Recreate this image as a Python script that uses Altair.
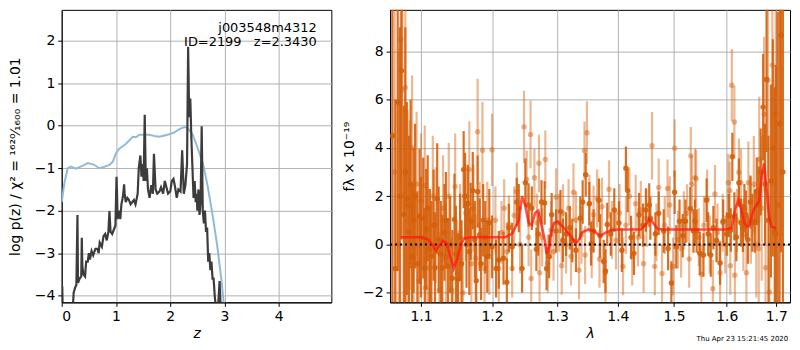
import altair as alt
import pandas as pd

# ---------------- left panel data ----------------
z_prior = [0.0, 0.05, 0.11, 0.17, 0.26, 0.39, 0.48, 0.60, 0.69, 0.80, 0.88, 0.94, 1.0, 1.06, 1.18,
           1.31, 1.37, 1.43, 1.61, 1.74, 1.80, 1.86, 1.98, 2.07, 2.17, 2.26, 2.32, 2.41, 2.50, 2.60,
           2.69, 2.78, 2.87, 2.95, 2.99, 3.02]
lp_prior = [-1.80, -1.34, -1.00, -0.96, -1.01, -0.94, -0.88, -0.92, -1.00, -0.96, -0.92, -0.85, -0.65,
            -0.54, -0.43, -0.26, -0.27, -0.21, -0.21, -0.25, -0.26, -0.24, -0.20, -0.16, -0.08, -0.03,
            -0.05, -0.20, -0.50, -0.88, -1.42, -2.10, -2.86, -3.70, -4.23, -4.6]

z_pdf = [0.0, 0.01, 0.02, 0.05, 0.10, 0.15, 0.20, 0.22, 0.25, 0.27, 0.29, 0.30, 0.33, 0.36, 0.37, 0.38,
         0.40, 0.43, 0.45, 0.48, 0.50, 0.52, 0.55, 0.58, 0.62, 0.66, 0.68, 0.70, 0.74, 0.77, 0.80,
         0.83, 0.86, 0.88, 0.90, 0.93, 0.96, 0.99, 1.01, 1.02, 1.03, 1.06, 1.08, 1.10, 1.13, 1.15,
         1.16, 1.18, 1.21, 1.24, 1.27, 1.30, 1.33, 1.36, 1.40, 1.42, 1.45, 1.47, 1.49, 1.51, 1.53,
         1.55, 1.57, 1.59, 1.62, 1.65, 1.68, 1.70, 1.73, 1.76, 1.80, 1.83, 1.87, 1.90, 1.93, 1.96,
         2.00, 2.03, 2.06, 2.09, 2.12, 2.15, 2.19, 2.22, 2.25, 2.28, 2.31, 2.33, 2.35, 2.37, 2.39,
         2.41, 2.43, 2.45, 2.47, 2.49, 2.50, 2.52, 2.54, 2.56, 2.58, 2.60, 2.62, 2.64, 2.66, 2.68,
         2.70, 2.72, 2.74, 2.76, 2.78, 2.80, 2.82, 2.85, 2.88, 2.91, 2.93, 2.95]
lp_pdf = [-3.80, -3.80, -4.40, -4.60, -4.60, -4.50, -4.40, -3.93, -3.80, -3.75, -2.10, -3.70, -3.60,
          -3.55, -2.64, -3.30, -3.50, -3.55, -3.20, -3.20, -3.00, -3.15, -2.95, -3.05, -2.90, -2.90,
          -3.00, -2.75, -2.85, -2.60, -2.55, -2.70, -2.50, -2.01, -2.50, -2.55, -2.45, -2.35, -1.20,
          -1.60, -2.20, -2.00, -2.20, -1.85, -1.65, -1.38, -1.60, -1.80, -1.70, -1.75, -1.85, -1.80,
          -1.75, -1.85, -1.60, -1.00, -0.70, -1.20, -0.90, -1.30, 0.26, -1.30, -1.00, -1.50, -1.70,
          -1.40, -1.60, -0.66, -1.50, -1.60, -1.55, -1.45, -1.60, -1.30, -1.45, -1.60, -1.55, -1.30,
          -1.25, -1.45, -1.70, -1.50, -1.55, -0.58, -1.60, -1.40, -0.90, 1.86, 0.20, 0.64, -0.30,
          -1.00, -1.70, -1.30, -1.80, -1.60, -2.00, -1.50, -2.10, -1.80, -0.01, -2.00, -2.30, -2.00,
          -2.50, -2.40, -3.20, -3.00, -3.40, -3.20, -3.60, -3.60, -4.00, -4.40, -4.30, -3.66, -4.30,
          -4.60]

label_z = [4.70, 4.70]
label_lp = [2.30, 1.98]
label_txt = ["j003548m4312", "ID=2199\u00a0\u00a0\u00a0z=2.3430"]

# ---------------- right panel data ----------------
lam_model = [1.073, 1.09, 1.10, 1.11, 1.115, 1.12, 1.125, 1.13, 1.135, 1.14, 1.145, 1.15, 1.155, 1.16,
             1.17, 1.20, 1.22, 1.23, 1.24, 1.245, 1.25, 1.255, 1.26, 1.265, 1.27, 1.275, 1.28, 1.283,
             1.287, 1.29, 1.295, 1.30, 1.31, 1.32, 1.33, 1.335, 1.34, 1.35, 1.36, 1.37, 1.38, 1.39,
             1.40, 1.44, 1.45, 1.455, 1.46, 1.47, 1.48, 1.60, 1.61, 1.617, 1.623, 1.628, 1.635, 1.64,
             1.645, 1.65, 1.655, 1.66, 1.665, 1.67, 1.675, 1.68, 1.685, 1.69, 1.70]
f_model = [0.3, 0.3, 0.3, 0.2, 0.0, -0.25, -0.05, 0.15, 0.05, -0.5, -1.0, -0.6, 0.0, 0.25, 0.3, 0.3,
           0.3, 0.45, 1.0, 2.0, 1.6, 0.9, 0.8, 1.3, 1.4, 0.8, 0.2, -0.4, -0.1, 0.5, 0.9, 0.95, 0.7,
           0.4, 0.05, 0.2, 0.5, 0.62, 0.55, 0.35, 0.5, 0.6, 0.62, 0.62, 0.85, 1.05, 0.95, 0.65, 0.62,
           0.62, 0.7, 1.5, 1.85, 1.5, 0.9, 0.75, 0.8, 1.2, 1.5, 1.65, 1.8, 2.8, 3.35, 2.3, 1.2, 0.75,
           0.65]

# darker spectrum (wavelength, flux, 1-sigma error)
lam_a = [1.062, 1.066, 1.069, 1.072, 1.074, 1.077, 1.079, 1.081, 1.084, 1.086, 1.088, 1.090, 1.092,
         1.095, 1.098, 1.100, 1.103, 1.105, 1.107, 1.109, 1.112, 1.114, 1.117, 1.119, 1.122, 1.124,
         1.127, 1.129, 1.132, 1.134, 1.137, 1.140, 1.143, 1.146, 1.148, 1.151, 1.154, 1.156, 1.159,
         1.161, 1.163, 1.165, 1.167, 1.169, 1.172, 1.175, 1.177, 1.179, 1.182, 1.184, 1.187, 1.190,
         1.193, 1.196,
         1.200, 1.206, 1.210, 1.217, 1.222, 1.225, 1.230, 1.237, 1.240, 1.245, 1.250, 1.255, 1.260,
         1.267, 1.270, 1.275, 1.280, 1.283, 1.287, 1.291, 1.298, 1.305, 1.309, 1.314, 1.320, 1.324,
         1.330, 1.337, 1.341, 1.346, 1.352, 1.355, 1.359, 1.368, 1.370, 1.376, 1.379, 1.382, 1.388,
         1.394, 1.402, 1.407, 1.414, 1.417, 1.423, 1.428, 1.437, 1.444, 1.449, 1.455, 1.457, 1.466,
         1.472, 1.481, 1.489, 1.495, 1.501, 1.504, 1.510, 1.516, 1.521, 1.530, 1.536, 1.539, 1.542,
         1.548, 1.555, 1.561, 1.564, 1.569, 1.574, 1.580, 1.587, 1.593, 1.600, 1.604,
         1.608, 1.611, 1.615, 1.619, 1.624, 1.628, 1.632, 1.635, 1.638, 1.642, 1.647, 1.651, 1.656,
         1.660, 1.664, 1.668, 1.673, 1.677, 1.680, 1.684, 1.689, 1.693, 1.697, 1.699, 1.703, 1.707,
         1.710, 1.714]
f_a = [4.5, -1.0, 5.9, 2.0, 7.2, 1.25, 3.0, 1.9, 0.5, 2.5, -0.5, 1.0, 2.0, -0.8, 1.16, 0.3, 1.09,
       -1.0, 0.63, 1.5, -0.2, -0.5, 0.8, -0.97, 1.89, 0.2, -0.4, -0.97, 0.5, 1.0, -0.9, 0.0, -1.4,
       1.03, -0.4, -1.44, 0.3, -0.8, 3.1, 2.0, 0.0, 1.7, -0.3, 0.96, 2.23, 0.2, -1.5, 2.19, 0.4, -0.8,
       1.0, 0.3, -0.5, 0.9,
       -0.1, -1.0, -0.64, -0.57, -1.57, 0.69, -0.1, 1.76, 1.5, -1.0, 2.56, 1.63, 1.5, -0.2, 0.43,
       1.76, 1.72, -1.0, -0.5, 1.23, 0.56, 1.36, 0.16, 0.43, 0.69, 0.16, -0.24, 1.09, 1.76, 2.89,
       1.69, 0.03, 0.56, 1.83, 0.36, -0.71, -1.1, 0.83, 0.43, 1.43, 0.89, -0.24, 3.16, 2.23, 0.29,
       -0.37, 1.23, 0.8, 1.43, 1.63, 1.09, 0.43, 1.29, 0.56, -0.17, -1.6, 2.16, -0.1, 0.96, 0.36,
       0.96, 1.49, 0.56, 0.96, 0.56, -0.37, -0.44, 1.83, 0.43, -0.44, 0.69, 0.16, -0.77, 0.96, 0.43,
       1.2,
       0.6, 3.63, 1.16, 0.3, 2.56, 0.9, 0.69, 1.5, 1.23, 0.2, 1.76, 0.9, 0.96, 2.2, 1.63, 3.0, 5.69,
       2.5, 6.83, 1.0, 2.63, 4.0, 0.5, 0.43, 1.63, 5.0, 8.67, 3.0]
e_a = [7, 7, 7, 7, 7, 4.5, 6, 4, 4, 3.5, 3, 3, 3, 3, 2.8, 2.5, 2.5, 2.5, 2.5, 2.2, 2.5, 2.3, 2.3,
       2.3, 2.3, 2.2, 2.2, 2.2, 2.0, 2.0, 2.0, 2.0, 2.0, 1.9, 2.0, 1.9, 1.8, 1.8, 1.6, 1.8, 1.8, 1.6,
       1.8, 1.6, 1.6, 1.6, 1.6, 1.5, 1.5, 1.5, 1.5, 1.5, 1.5, 1.4,
       1.3, 1.2, 1.2, 1.1, 1.0, 1.0, 1.0, 1.0, 1.0, 1.0, 1.0, 0.9, 0.9, 0.9, 0.9, 0.9, 0.9, 0.9, 0.9,
       0.9, 0.9, 0.9, 0.9, 0.9, 0.9, 0.9, 0.9, 0.9, 0.9, 0.9, 0.9, 0.9, 0.9, 0.9, 0.9, 0.9, 0.9, 0.9,
       0.9, 0.9, 0.9, 0.9, 0.9, 0.9, 0.9, 0.9, 0.9, 0.9, 0.9, 0.9, 0.9, 0.9, 0.9, 0.9, 0.9, 0.9, 0.9,
       0.9, 0.9, 0.9, 0.9, 0.9, 0.9, 0.9, 0.9, 0.9, 0.9, 0.9, 0.9, 0.9, 0.9, 0.9, 0.9, 0.9, 0.9, 0.9,
       0.9,
       1.0, 1.0, 1.0, 1.0, 1.0, 1.0, 1.0, 1.0, 1.0, 1.1, 1.2, 1.3, 1.4,
       1.6, 1.8, 2.2, 2.5, 3, 3.5, 4, 4.5, 6, 7, 8, 8, 9, 9, 10]

# lighter spectrum (wavelength, flux, 1-sigma error)
lam_b = [1.065, 1.070, 1.073, 1.075, 1.079, 1.082, 1.085, 1.088, 1.090, 1.094, 1.097, 1.100, 1.105,
         1.106, 1.109, 1.111, 1.116, 1.120, 1.125, 1.130, 1.134, 1.138, 1.142, 1.147, 1.150, 1.154,
         1.158, 1.162, 1.167, 1.170, 1.173, 1.176, 1.179, 1.182, 1.186, 1.189, 1.193, 1.196, 1.200,
         1.205, 1.210, 1.214, 1.218, 1.222, 1.225, 1.230, 1.233, 1.237, 1.242, 1.248, 1.252, 1.255,
         1.258, 1.259, 1.264, 1.268, 1.271, 1.272, 1.276, 1.281, 1.285, 1.290, 1.294, 1.298, 1.303,
         1.307, 1.309, 1.314, 1.318, 1.322, 1.326, 1.330, 1.335, 1.339, 1.344, 1.345, 1.348, 1.352,
         1.356, 1.359, 1.365, 1.369, 1.373, 1.379, 1.385, 1.390, 1.397, 1.403, 1.409, 1.414, 1.420,
         1.425, 1.431, 1.435, 1.440, 1.445, 1.450, 1.460, 1.465, 1.468, 1.472, 1.478, 1.483, 1.488,
         1.492, 1.498, 1.501, 1.507, 1.513, 1.518, 1.524, 1.528, 1.531, 1.533, 1.539, 1.541, 1.546,
         1.551, 1.556, 1.562, 1.567, 1.573, 1.577, 1.582, 1.587, 1.592, 1.597, 1.603, 1.606, 1.607,
         1.610, 1.615, 1.616, 1.620, 1.624, 1.628, 1.633, 1.639, 1.643, 1.648, 1.654, 1.659, 1.664,
         1.665, 1.670, 1.675, 1.678, 1.683, 1.686, 1.692, 1.699]
f_b = [3.0, 0.0, 8.5, 6.4, 6.5, 1.6, 1.63, 4.0, -0.57, 2.5, -1.5, 1.8, 2.43, -1.8, -0.17, -0.97,
       2.0, 0.8, -1.9, 1.5, -0.5, 2.0, -1.9, 2.4, -1.2, 0.5, -2.0, 1.3, 3.1, -0.8, 1.5, -0.57, 4.67,
       0.8, 3.9, -1.0, 1.0, -0.5, 3.92, 1.0, -1.0, 0.5, 1.5, -0.3, 0.83, -1.0, 1.2, 2.19, 0.0, 4.87,
       2.69, 0.3, 4.56, -1.41, 2.76, 0.9, 3.36, -1.17, 0.3, 3.52, -0.8, 0.6, -0.3, 1.96, 0.9, -0.88,
       1.29, 0.0, 1.5, -0.5, 2.16, 1.0, -1.07, 0.4, 3.89, -0.44, 4.63, 1.69, -0.2, 1.23, 1.9, -0.6,
       1.56, -1.17, 2.29, 0.6, 0.16, 1.3, -0.91, 0.8, 2.0, -0.5, 1.69, 0.3, 1.43, -0.8, 1.09, 4.09,
       -0.91, 0.5, 2.36, -1.2, 0.8, 2.32, 1.63, -0.91, 3.99, 0.2, -0.17, 1.0, 1.29, -0.6, 3.67, 2.49,
       2.76, 2.72, 0.3, -1.24, 0.8, 1.89, 0.0, -1.84, 2.09, 0.5, -1.17, 0.9, 0.0, 2.56, 2.23, -0.88,
       6.6, 5.07, -1.28, 1.0, 2.99, 2.56, 0.4, -1.17, 2.56, 1.0, 2.49, 0.0, -0.17, 3.52, 1.5, 5.39,
       -0.97, 6.8, -1.97, 7.43, 5.43]
e_b = [8, 8, 6, 5, 5, 4, 3.5, 3, 3, 3, 2.8, 2.8, 2.5, 2.5, 2.5, 2.5, 2.5, 2.4, 2.4, 2.2, 2.2, 2.2,
       2.2, 2.2, 2.2, 2.0, 2.0, 2.0, 2.0, 2.0, 1.8, 1.8, 2.2, 1.8, 2.0, 1.8, 1.6, 1.6, 1.5, 1.4, 1.4,
       1.3, 1.2, 1.2, 1.2, 1.2, 1.2, 1.2, 1.2, 1.5, 1.2, 1.2, 1.4, 1.2, 1.2, 1.2, 1.2, 1.2, 1.2, 1.2,
       1.2, 1.2, 1.2, 1.2, 1.2, 1.2, 1.2, 1.2, 1.2, 1.2, 1.2, 1.2, 1.2, 1.2, 1.2, 1.2, 1.3, 1.2, 1.2,
       1.2, 1.2, 1.2, 1.2, 1.2, 1.2, 1.2, 1.2, 1.2, 1.2, 1.2, 1.2, 1.2, 1.2, 1.2, 1.2, 1.2, 1.2, 1.4,
       1.2, 1.2, 1.2, 1.2, 1.2, 1.2, 1.2, 1.2, 1.2, 1.2, 1.2, 1.2, 1.2, 1.2, 1.2, 1.2, 1.2, 1.2, 1.2,
       1.2, 1.2, 1.2, 1.2, 1.2, 1.2, 1.2, 1.2, 1.2, 1.2, 1.2, 1.2, 1.2, 1.5, 1.5, 1.2, 1.3, 1.4, 1.4,
       1.5, 1.6, 1.7, 1.8, 2.0, 2.2, 2.5, 2.6, 3, 3.2, 3.5, 4, 4, 5, 6]

date_txt = ["Thu Apr 23 15:21:45 2020"]

# ---------------- styling ----------------
FONT = "DejaVu Sans"
W1, W2, H = 271, 402, 294
ORANGE = "#d5600c"

df_prior = pd.DataFrame({"z": z_prior, "lp": lp_prior})
df_pdf = pd.DataFrame({"z": z_pdf, "lp": lp_pdf})
df_lab = pd.DataFrame({"z": label_z, "lp": label_lp, "t": label_txt})

ytitle_l = "log p(z) / χ² = ¹⁶²⁰⁄₁₆₀₀ = 1.01"
xl = alt.X("z:Q", scale=alt.Scale(domain=[0, 4.97], nice=False, zero=False),
           axis=alt.Axis(values=[0, 1, 2, 3, 4], title="z", titleFontStyle="italic", format="d"))
yl = alt.Y("lp:Q", scale=alt.Scale(domain=[-4.16, 2.73], nice=False, zero=False),
           axis=alt.Axis(values=[-4, -3, -2, -1, 0, 1, 2], title=ytitle_l, format="d",
                         minExtent=30, titlePadding=9))

prior_line = alt.Chart(df_prior).mark_line(color="#8fbbd9", strokeWidth=2, clip=True).encode(x=xl, y=yl)
pdf_line = alt.Chart(df_pdf).mark_line(color="#3c3c3c", strokeWidth=2.2, clip=True).encode(x=xl, y=yl)
labels = alt.Chart(df_lab).mark_text(align="right", baseline="middle", font=FONT, fontSize=13,
                                     color="black").encode(x=xl, y=yl, text="t:N")

left = alt.layer(prior_line, pdf_line, labels).properties(width=W1, height=H)

# right panel
def errdf(lam, f, e):
    return pd.DataFrame({"lam": lam, "f": f, "lo": [a - b for a, b in zip(f, e)],
                         "hi": [a + b for a, b in zip(f, e)]})

df_a = errdf(lam_a, f_a, e_a)
df_b = errdf(lam_b, f_b, e_b)
df_model = pd.DataFrame({"lam": lam_model, "f": f_model})
df_zero = pd.DataFrame({"f": [0.0]})
df_date = pd.DataFrame({"t": date_txt})

ytitle_r = "fλ × 10⁻¹⁹"
xs = alt.Scale(type="log", domain=[1.059, 1.729], nice=False, zero=False)
ys = alt.Scale(domain=[-2.4, 9.72], nice=False, zero=False)
xr = alt.X("lam:Q", scale=xs, axis=alt.Axis(values=[1.1, 1.2, 1.3, 1.4, 1.5, 1.6, 1.7], format=".1f",
                                           title="λ", titleFontStyle="italic"))
yax = alt.Axis(values=[-2, 0, 2, 4, 6, 8], format="d", title=ytitle_r, minExtent=28, titlePadding=6)
yr = alt.Y("f:Q", scale=ys, axis=yax)
ylo = alt.Y("lo:Q", scale=ys, axis=yax)

bars_a = alt.Chart(df_a).mark_rule(color=ORANGE, strokeWidth=2.2, opacity=0.9, clip=True).encode(
    x=xr, y=ylo, y2="hi:Q")
pts_a = alt.Chart(df_a).mark_circle(color=ORANGE, size=30, opacity=0.9, clip=True).encode(x=xr, y=yr)
bars_b = alt.Chart(df_b).mark_rule(color=ORANGE, strokeWidth=2.2, opacity=0.45, clip=True).encode(
    x=xr, y=ylo, y2="hi:Q")
pts_b = alt.Chart(df_b).mark_circle(color=ORANGE, size=30, opacity=0.45, clip=True).encode(x=xr, y=yr)
zero = alt.Chart(df_zero).mark_rule(color="black", strokeWidth=2, strokeDash=[2, 3]).encode(y=yr)
model = alt.Chart(df_model).mark_line(color="#ff1a10", strokeWidth=2.6, opacity=0.75, clip=True).encode(
    x=xr, y=yr)
date = alt.Chart(df_date).mark_text(align="left", baseline="middle", font=FONT, fontSize=7,
                                    color="black").encode(x=alt.value(308), y=alt.value(331), text="t:N")

right = alt.layer(bars_a, pts_a, bars_b, pts_b, zero, model, date).properties(width=W2, height=H)

chart = alt.hconcat(left, right, spacing=9).properties(padding=0).configure_view(
    stroke="black", strokeWidth=1
).configure_axis(
    labelFont=FONT, titleFont=FONT, labelFontSize=14, titleFontSize=14, labelColor="black",
    titleColor="black", titleFontWeight="normal", tickColor="black", domainColor="black",
    tickSize=4, labelPadding=3, gridColor="#b0b0b0", gridWidth=1, grid=True
).configure_axisX(titlePadding=3)

chart.save("out.html", embed_options={"renderer": "svg", "actions": False})
